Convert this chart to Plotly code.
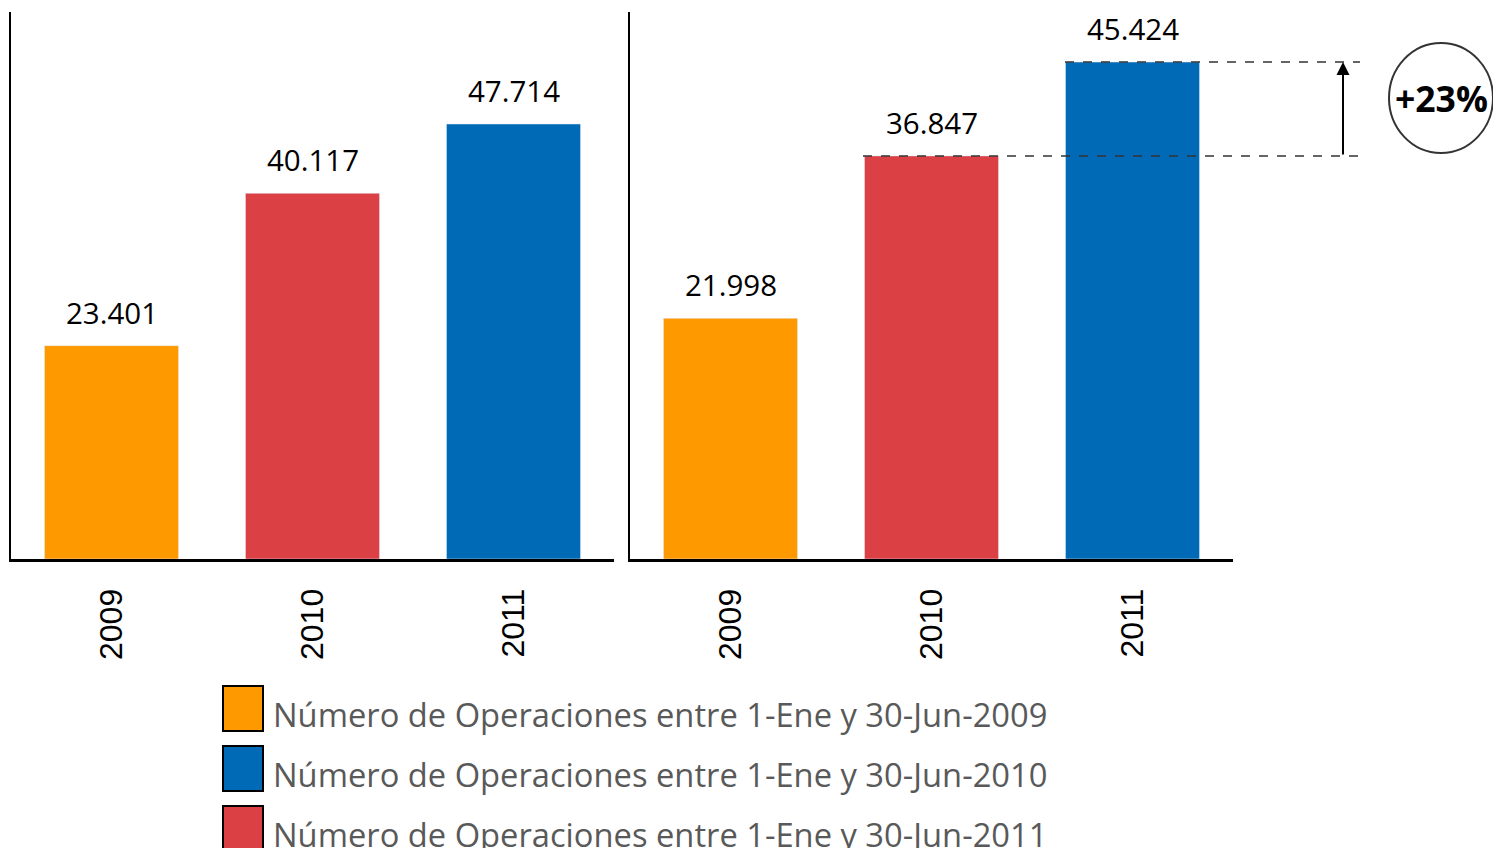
import plotly.graph_objects as go

years = ["2009", "2010", "2011"]
left_values = [23401, 40117, 47714]
right_values = [21998, 36847, 45424]
bar_colors = ["#FF9900", "#DB4045", "#006AB7"]
legend_labels = [
    "Número de Operaciones entre 1-Ene y 30-Jun-2009",
    "Número de Operaciones entre 1-Ene y 30-Jun-2010",
    "Número de Operaciones entre 1-Ene y 30-Jun-2011",
]
legend_colors = ["#FF9900", "#006AB7", "#DB4045"]
growth_label = "+23%"

W, H = 1493, 848
XL0, XL1 = 11, 614
XR0, XR1 = 630, 1233

def fmt(v):
    return f"{v:,}".replace(",", ".")

def rdom(px):
    return (px - XR0) / (XR1 - XR0)

fig = go.Figure()
fig.add_trace(go.Bar(x=years, y=left_values, marker=dict(color=bar_colors),
                     xaxis="x", yaxis="y", showlegend=False))
fig.add_trace(go.Bar(x=years, y=right_values, marker=dict(color=bar_colors),
                     xaxis="x2", yaxis="y2", showlegend=False))

ann = []
for xa, ya, vals in (("x", "y", left_values), ("x2", "y2", right_values)):
    for i, v in enumerate(vals):
        # category axes: annotation x is the category's serial index
        ann.append(dict(x=i, y=v, xref=xa, yref=ya, text=fmt(v), showarrow=False,
                        xanchor="center", yanchor="bottom", yshift=11,
                        font=dict(family="Open Sans", size=29.5, color="#000000")))

shapes = []
# dashed reference lines
shapes.append(dict(type="line", xref="x2 domain", yref="y2", x0=rdom(863), x1=rdom(1360),
                   y0=right_values[1], y1=right_values[1],
                   line=dict(color="#333333", width=1.5, dash="dash")))
shapes.append(dict(type="line", xref="x2 domain", yref="y2", x0=rdom(1065), x1=rdom(1360),
                   y0=right_values[2], y1=right_values[2],
                   line=dict(color="#333333", width=1.5, dash="dash")))
# arrow
ann.append(dict(x=rdom(1343), y=right_values[2], xref="x2 domain", yref="y2",
                ax=rdom(1343), ay=right_values[1], axref="x2 domain", ayref="y2",
                showarrow=True, arrowhead=2, arrowsize=1.3, arrowwidth=2,
                arrowcolor="#000000", text=""))
# circle
cx, cy = 1441, 98
shapes.append(dict(type="circle", xref="paper", yref="paper",
                   x0=(cx - 52) / W, x1=(cx + 52) / W,
                   y0=1 - (cy + 55) / H, y1=1 - (cy - 55) / H,
                   line=dict(color="#333333", width=2), fillcolor="rgba(0,0,0,0)"))
ann.append(dict(x=cx / W, y=1 - cy / H, xref="paper", yref="paper", text=f"<b>{growth_label}</b>",
                showarrow=False, xanchor="center", yanchor="middle",
                font=dict(family="Open Sans", size=35.5, color="#000000")))

# legend
row_tops = [686, 746, 806]
for top, lab, col in zip(row_tops, legend_labels, legend_colors):
    shapes.append(dict(type="rect", xref="paper", yref="paper",
                       x0=223 / W, x1=263 / W, y0=1 - (top + 45) / H, y1=1 - top / H,
                       fillcolor=col, line=dict(color="#000000", width=2)))
    ann.append(dict(x=271 / W, y=1 - (top + 28) / H, xref="paper", yref="paper", text=lab,
                    showarrow=False, xanchor="left", yanchor="middle",
                    font=dict(family="Open Sans", size=32.7, color="#595959")))

axis_common = dict(type="category", categoryorder="array", categoryarray=years,
                   range=[-0.5, len(years) - 0.5],
                   showgrid=False, zeroline=False, showline=True,
                   linecolor="#000000", linewidth=3, tickangle=-90,
                   ticks="outside", ticklen=14, tickcolor="rgba(0,0,0,0)",
                   automargin=False,
                   tickfont=dict(family="Liberation Sans", size=32, color="#000000"))
yaxis_common = dict(showgrid=False, zeroline=False, showline=True, linecolor="#000000",
                    linewidth=2, showticklabels=False, ticks="", automargin=False)

fig.update_layout(
    width=W, height=H,
    margin=dict(l=0, r=0, t=0, b=0),
    paper_bgcolor="white", plot_bgcolor="white",
    bargap=0.333,
    xaxis=dict(domain=[XL0 / W, XL1 / W], anchor="y", **axis_common),
    xaxis2=dict(domain=[XR0 / W, XR1 / W], anchor="y2", **axis_common),
    yaxis=dict(domain=[1 - 559 / H, 1 - 12 / H], range=[0, 60000], anchor="x", **yaxis_common),
    yaxis2=dict(domain=[1 - 559 / H, 1 - 12 / H], range=[0, 50000], anchor="x2", **yaxis_common),
    shapes=shapes,
    annotations=ann,
    showlegend=False,
)

fig.write_html("out.html", config={"displayModeBar": False},
               post_script="document.body.style.margin='0';document.body.style.overflow='hidden';")
